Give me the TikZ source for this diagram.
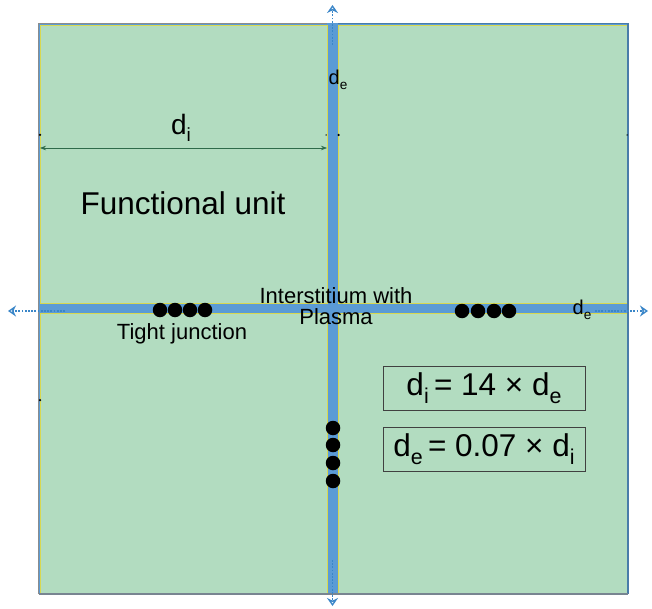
\documentclass[tikz,border=0pt]{standalone}
\usepackage{fontspec}
\setmainfont{Liberation Sans}
\usetikzlibrary{arrows.meta}
\definecolor{cellgreen}{HTML}{B2DCC0}
\definecolor{chan}{HTML}{5B9BD5}
\definecolor{arrblue}{HTML}{3A86C8}
\definecolor{dgreen}{HTML}{2E6B4A}
\definecolor{edgey}{HTML}{D8D850}
\newcommand\sbx[1]{\raisebox{-0.45ex}{\scalebox{0.68}{#1}}}
\begin{document}
\begin{tikzpicture}[x=1pt,y=-1pt,
  cell/.style={fill=cellgreen, draw=edgey, line width=0.8pt},
  tj/.style={circle, fill=black, minimum size=14.5pt, inner sep=0pt},
  flow/.style={arrblue, line width=1.8pt, dash pattern=on 1.8pt off 1.4pt, -{Stealth[length=8pt,width=11pt,open,line width=1.4pt]}},
  dimarrow/.style={dgreen, line width=0.7pt, {Stealth[length=6pt]}-{Stealth[length=6pt]}},
  eqbox/.style={draw=black!75, line width=0.8pt, minimum width=202pt, minimum height=44pt, inner sep=0pt, font=\fontsize{31.5}{34}\selectfont},
  lab/.style={font=\fontsize{22}{24}\selectfont, inner sep=0pt},
  tick/.style={circle, fill=black, minimum size=2.5pt, inner sep=0pt}]
\useasboundingbox (0,0) rectangle (652,609);
% interstitium background
\fill[chan] (38,23) rectangle (628,594);
% cells
\draw[cell] (40,25) rectangle (327,303);
\draw[cell] (338,25) rectangle (627,303);
\draw[cell] (40,313) rectangle (327,593);
\draw[cell] (338,313) rectangle (627,593);
% outer edges
\draw[gray!90, line width=1.6pt] (38.5,594) -- (38.5,23.5) -- (327,23.5);
\draw[chan!80!black, line width=1.2pt] (338,23.5) -- (628,23.5) -- (628,594);
\draw[gray!80!chan, line width=1.4pt] (38.5,594) -- (628,594);
% flow arrows
\coordinate (ts) at (332.5,45); \coordinate (te) at (332.5,5);
\coordinate (bs) at (332.5,560); \coordinate (be) at (332.5,606);
\coordinate (ls) at (65,311); \coordinate (le) at (8,311);
\coordinate (rs) at (595,311); \coordinate (re) at (648,311);
\draw[flow] (ts) -- (te);
\draw[flow] (bs) -- (be);
\draw[flow] (ls) -- (le);
\draw[flow] (rs) -- (re);
% small ticks
\node[tick] (k1) at (40,135) {};
\node[tick] (k2) at (338.5,135) {};
\node[tick, minimum size=1.5pt] (k3) at (326,135) {};
\node[tick, minimum size=1.5pt] (k4) at (627,135) {};
\node[tick] (k5) at (40,400) {};
% d_i dimension
\coordinate (dl) at (40,148);
\coordinate (dr) at (327,148);
\draw[dimarrow] (dl) -- (dr);
\node[font=\fontsize{28}{30}\selectfont, inner sep=0pt] (di) at (181,128) {d\sbx{i}};
\node[font=\fontsize{31.5}{34}\selectfont, inner sep=0pt] (fu) at (183,203) {Functional unit};
\node[font=\fontsize{20}{22}\selectfont, inner sep=0pt] (de1) at (338,80) {d\sbx{e}};
\node[font=\fontsize{20}{22}\selectfont, inner sep=0pt] (de2) at (582,310) {d\sbx{e}};
\node[lab, align=center] (int) at (336,306) {Interstitium with\\[-3pt]Plasma};
\node[lab] (tjl) at (182,334) {Tight junction};
% tight junctions
\foreach \i/\x in {1/160,2/175,3/190,4/205}{\node[tj] (a\i) at (\x,310) {};}
\foreach \i/\x in {1/462,2/478,3/494,4/509}{\node[tj] (b\i) at (\x,311) {};}
\foreach \i/\y in {1/428,2/445,3/463,4/481}{\node[tj] (c\i) at (333,\y) {};}
% equation boxes
\node[eqbox] (eq1) at (484,388) {d\sbx{i}\,= 14 × d\sbx{e}};
\node[eqbox] (eq2) at (484,449) {d\sbx{e}\,= 0.07 × d\sbx{i}};
\end{tikzpicture}
\end{document}
